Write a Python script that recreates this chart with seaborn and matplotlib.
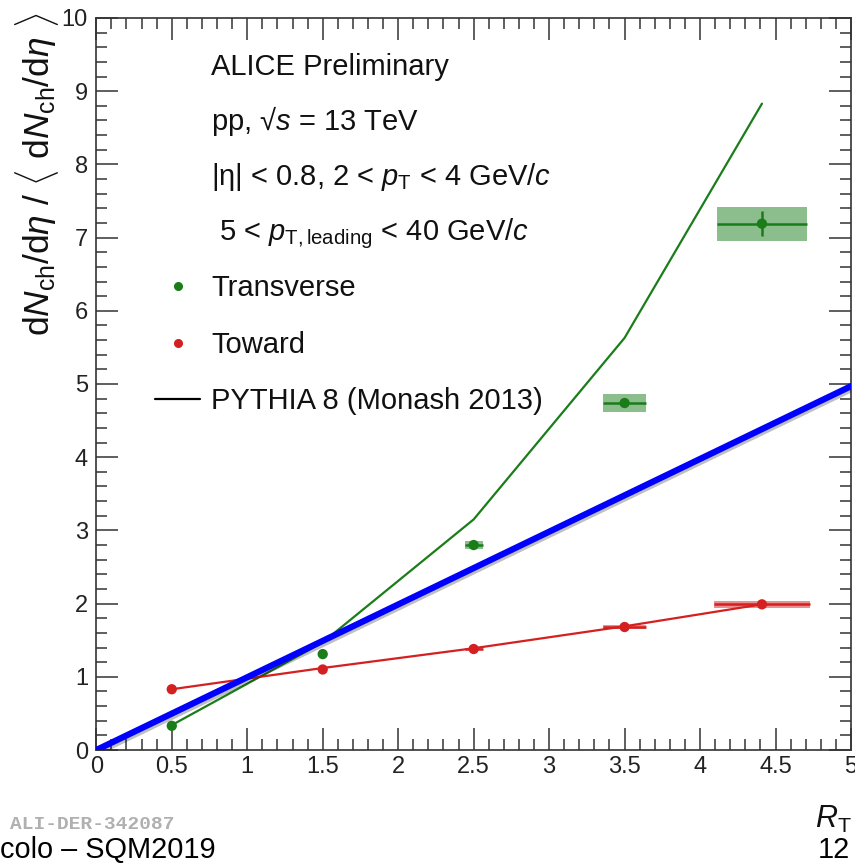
import matplotlib
matplotlib.use("Agg")
import matplotlib.pyplot as plt
import matplotlib.patheffects as pe
from matplotlib.ticker import MultipleLocator, FuncFormatter
from matplotlib.lines import Line2D
import pandas as pd
import seaborn as sns

# R_T bin positions
rt_bins = [0.5, 1.5, 2.5, 3.5, 4.41]

# Transverse region: data, stat./syst. uncertainties, bin half-widths
trans_vals = [0.33, 1.31, 2.80, 4.74, 7.19]
trans_stat = [0.0, 0.0, 0.0, 0.02, 0.17]
trans_sys = [0.0, 0.0, 0.05, 0.12, 0.23]
trans_xw = [0.0, 0.0, 0.06, 0.145, 0.30]

# Toward region
toward_vals = [0.83, 1.10, 1.38, 1.68, 1.99]
toward_stat = [0.0, 0.0, 0.0, 0.01, 0.01]
toward_sys = [0.0, 0.0, 0.02, 0.03, 0.05]
toward_xw = [0.0, 0.0, 0.06, 0.145, 0.32]

# PYTHIA 8 (Monash 2013) predictions
pythia_trans = [0.34, 1.47, 3.15, 5.63, 8.83]
pythia_toward = [0.83, 1.12, 1.39, 1.69, 1.99]

# reference line
ref_x = [0.0, 5.0]
ref_y = [0.0, 4.97]

GREEN = "#1a7d1a"
RED = "#d42020"

sns.set_style("ticks")
plt.rcParams["font.family"] = ["Liberation Sans", "DejaVu Sans"]
plt.rcParams["mathtext.fontset"] = "custom"
plt.rcParams["mathtext.rm"] = "Liberation Sans"
plt.rcParams["mathtext.it"] = "Liberation Sans:italic"
plt.rcParams["mathtext.bf"] = "Liberation Sans:bold"

df = pd.DataFrame({
    "rt": rt_bins,
    "trans": trans_vals, "trans_stat": trans_stat, "trans_sys": trans_sys, "trans_xw": trans_xw,
    "toward": toward_vals, "toward_stat": toward_stat, "toward_sys": toward_sys, "toward_xw": toward_xw,
    "py_trans": pythia_trans, "py_toward": pythia_toward,
})
ref = pd.DataFrame({"x": ref_x, "y": ref_y})

fig = plt.figure(figsize=(8.55, 8.63), dpi=100)
ax = fig.add_axes([96.3 / 855, 113 / 863, (851 - 96.3) / 855, 732 / 863])

# systematic uncertainty boxes
for col, sys_col, xw_col, color in [("trans", "trans_sys", "trans_xw", GREEN),
                                     ("toward", "toward_sys", "toward_xw", RED)]:
    ax.bar(df["rt"], 2 * df[sys_col], bottom=df[col] - df[sys_col],
           width=2 * df[xw_col], color=color, alpha=0.5, linewidth=0, zorder=2)

# PYTHIA curves
sns.lineplot(data=df, x="rt", y="py_trans", color=GREEN, lw=1.6, ax=ax, zorder=3)
sns.lineplot(data=df, x="rt", y="py_toward", color=RED, lw=1.6, ax=ax, zorder=3)

# data with statistical errors
for col, stat_col, xw_col, color in [("trans", "trans_stat", "trans_xw", GREEN),
                                      ("toward", "toward_stat", "toward_xw", RED)]:
    ax.errorbar(df["rt"], df[col], yerr=df[stat_col], xerr=df[xw_col], fmt="none",
                ecolor=color, elinewidth=1.8, capsize=0, zorder=4)
    sns.scatterplot(data=df, x="rt", y=col, color=color, s=55, edgecolor="none",
                    ax=ax, zorder=5)

# reference line
sns.lineplot(data=ref, x="x", y="y", color="#0000ff", lw=4.5, ax=ax, zorder=6,
             path_effects=[pe.SimpleLineShadow(offset=(1.5, -1.5), shadow_color="black", alpha=0.25),
                           pe.Normal()])

ax.set_xlim(0, 5)
ax.set_ylim(0, 10)
ax.set_xlabel("")
ax.set_ylabel("")
ax.xaxis.set_major_locator(MultipleLocator(0.5))
ax.xaxis.set_minor_locator(MultipleLocator(0.1))
ax.yaxis.set_major_locator(MultipleLocator(1))
ax.yaxis.set_minor_locator(MultipleLocator(0.2))
ax.xaxis.set_major_formatter(FuncFormatter(lambda v, p: f"{v:g}"))
ax.yaxis.set_major_formatter(FuncFormatter(lambda v, p: f"{v:g}"))
ax.tick_params(which="both", direction="in", top=True, right=True,
               color="#333333", width=1.1, labelsize=17, labelcolor="#222222")
ax.tick_params(which="major", length=15.8)
ax.tick_params(which="minor", length=7.9)
ax.tick_params(axis="x", pad=4)
ax.tick_params(axis="y", pad=6)
for s in ax.spines.values():
    s.set_linewidth(1.2)
    s.set_color("#333333")
    s.set_visible(True)

# header text
fs = 21
header = [
    (0.76, 9.22, "ALICE Preliminary"),
    (0.76, 8.47, "pp, √$s$ = 13 TeV"),
    (0.76, 7.72, "|η| < 0.8, 2 < $p_{\\mathrm{T}}$ < 4 GeV/$c$"),
    (0.81, 6.96, "5 < $p_{\\mathrm{T,leading}}$ < 40 GeV/$c$"),
]
for x, y, s in header:
    ax.text(x, y, s, fontsize=fs, ha="left", va="baseline", color="#111111", zorder=7)

handles = [
    Line2D([], [], ls="none", marker="o", color=GREEN, markersize=5.5),
    Line2D([], [], ls="none", marker="o", color=RED, markersize=5.5),
    Line2D([], [], color="black", lw=1.6),
]
labels = ["Transverse", "Toward", "PYTHIA 8 (Monash 2013)"]
ax.legend(handles, labels, loc="upper left", bbox_to_anchor=(0.078, 0.650),
          frameon=False, fontsize=fs, borderpad=0, borderaxespad=0,
          handlelength=1.55, handletextpad=0.38, labelspacing=0.98,
          labelcolor="#111111")

# axis titles
fig.text(37 / 855, 1 - 12 / 863,
         r"d$N_{\mathrm{ch}}$/d$\eta$ / $\langle$ d$N_{\mathrm{ch}}$/d$\eta$ $\rangle$",
         rotation=90, ha="center", va="top", fontsize=25.5, color="#111111")
fig.text(852 / 855, 1 - 828 / 863, r"$R_{\mathrm{T}}$", ha="right", va="baseline",
         fontsize=22, color="#111111")

# footer
fig.text(10 / 855, 1 - 829 / 863, "ALI-DER-342087", family="Liberation Mono",
         fontweight="bold", fontsize=14, color="#b0b0b0", ha="left", va="baseline")
fig.text(0, 1 - 858 / 863, "colo – SQM2019", fontsize=20.8, color="black",
         ha="left", va="baseline")
fig.text(850 / 855, 1 - 858 / 863, "12", fontsize=20.8, color="black",
         ha="right", va="baseline")

fig.savefig("out.png", dpi=100)
